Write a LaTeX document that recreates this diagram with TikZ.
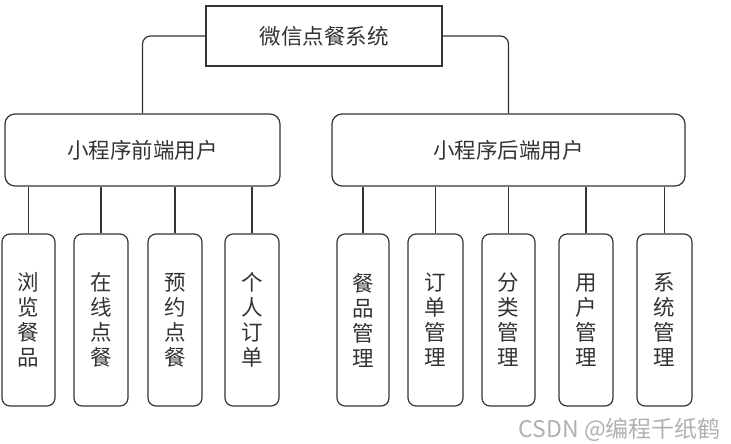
\documentclass[tikz,border=0pt]{standalone}
\usepackage{fontspec}
\newfontfamily\cjk{Noto Sans CJK SC}
\definecolor{ink}{HTML}{333333}
\definecolor{wm}{HTML}{B0B0B0}
\begin{document}
\begin{tikzpicture}[x=1pt,y=-1pt,
  box/.style={draw=ink, line width=1.2pt, fill=white, inner sep=0pt, text=ink,
    font=\cjk\fontsize{21.5}{25}\selectfont, align=center},
  topbox/.style={box, minimum width=236pt, minimum height=60pt},
  midbox/.style={box, rounded corners=10pt, minimum height=72pt},
  leafbox/.style={box, rounded corners=8pt, minimum height=172pt},
  link/.style={draw=ink, line width=1.2pt}
]
\useasboundingbox (0,0) rectangle (731,444);
\node[topbox] (top) at (324,36) {微信点餐系统};
\node[midbox, minimum width=275pt] (fe) at (142.5,150) {小程序前端用户};
\node[midbox, minimum width=353pt] (be) at (508.5,150) {小程序后端用户};

\node[leafbox, minimum width=53pt] (a1) at (28.5,320) {浏\\览\\餐\\品};
\node[leafbox, minimum width=54pt] (a2) at (101,320) {在\\线\\点\\餐};
\node[leafbox, minimum width=54pt] (a3) at (175,320) {预\\约\\点\\餐};
\node[leafbox, minimum width=54pt] (a4) at (252,320) {个\\人\\订\\单};

\node[leafbox, minimum width=52pt] (b1) at (363,320) {餐\\品\\管\\理};
\node[leafbox, minimum width=55pt] (b2) at (435.5,320) {订\\单\\管\\理};
\node[leafbox, minimum width=53pt] (b3) at (508.5,320) {分\\类\\管\\理};
\node[leafbox, minimum width=54pt] (b4) at (586,320) {用\\户\\管\\理};
\node[leafbox, minimum width=55pt] (b5) at (664.5,320) {系\\统\\管\\理};

\draw[link, rounded corners=8pt] (top.west) -| (fe.north);
\draw[link, rounded corners=8pt] (top.east) -| (be.north);
\foreach \c in {a1,a2,a3,a4} \draw[link] (\c.north) -- (\c.north |- fe.south);
\foreach \c in {b1,b2,b3,b4,b5} \draw[link] (\c.north) -- (\c.north |- be.south);

\node[text=wm, font=\cjk\fontsize{23}{26}\selectfont, inner sep=0pt, anchor=east] (wmark) at (721,430) {CSDN @编程千纸鹤};
\end{tikzpicture}
\end{document}
